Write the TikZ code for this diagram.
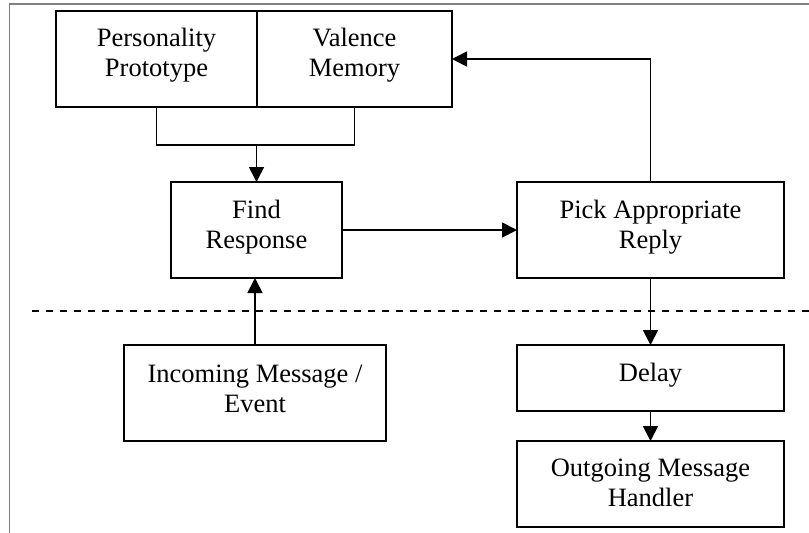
\documentclass[tikz,border=0pt]{standalone}
\usepackage{fontspec}
\setmainfont{Liberation Serif}
\usetikzlibrary{arrows.meta}

\tikzset{
  blk/.style={draw, line width=1.8pt, inner sep=0pt, outer sep=0pt},
  txt/.style={align=center, inner sep=0pt, font=\fontsize{26.5}{30}\selectfont},
  wire/.style={line width=1.8pt},
  arr/.style={wire, -{Triangle[length=15pt, width=15pt]}},
  sep/.style={line width=1.6pt, dash pattern=on 7pt off 7pt},
  frame/.style={line width=1.3pt, draw=black!50}
}

\begin{document}
\begin{tikzpicture}[x=1pt, y=-1pt]
  \useasboundingbox (0,0) rectangle (809,533);

  % page edge
  \coordinate (fbl) at (9.5,533);
  \coordinate (ftl) at (9.5,4);
  \coordinate (ftr) at (809,4);
  \draw[frame] (fbl) -- (ftl) -- (ftr);

  % upper row: knowledge stores
  \node[blk, minimum width=201pt, minimum height=96pt,
        label={[txt, yshift=4pt]center:{Personality\\Prototype}}]
        (pers) at (156.5,59) {};
  \node[blk, minimum width=195pt, minimum height=96pt,
        label={[txt, yshift=4pt]center:{Valence\\Memory}}]
        (val) at (354.5,59) {};

  % processing
  \node[blk, minimum width=171pt, minimum height=96pt,
        label={[txt, yshift=3pt]center:{Find\\Response}}]
        (find) at (256.5,230) {};
  \node[blk, minimum width=267pt, minimum height=96pt,
        label={[txt, yshift=3pt]center:{Pick Appropriate\\Reply}}]
        (pick) at (650.5,230) {};

  % input / output side
  \node[blk, minimum width=262pt, minimum height=96pt,
        label={[txt, yshift=4pt]center:{Incoming Message /\\Event}}]
        (inc) at (255,393) {};
  \node[blk, minimum width=267pt, minimum height=66pt,
        label={[txt, yshift=3pt]center:{Delay}}]
        (delay) at (650.5,378) {};
  \node[blk, minimum width=267pt, minimum height=86pt,
        label={[txt, yshift=1pt]center:{Outgoing Message\\Handler}}]
        (out) at (650.5,484) {};

  % separator between internal and external parts
  \coordinate (sl) at (32,311);
  \coordinate (sr) at (809,311);
  \draw[sep] (sl) -- (sr);

  % connectors
  \coordinate (join) at (256.5,145);
  \draw[wire] (pers.south) |- (join) -| (val.south);
  \draw[arr] (join) -- (find.north);
  \draw[arr] (find.east) -- (pick.west);
  \draw[arr] (pick.north) |- (val.east);
  \draw[arr] (inc.north) -- (inc.north |- find.south);
  \draw[arr] (pick.south) -- (delay.north);
  \draw[arr] (delay.south) -- (out.north);
\end{tikzpicture}
\end{document}
